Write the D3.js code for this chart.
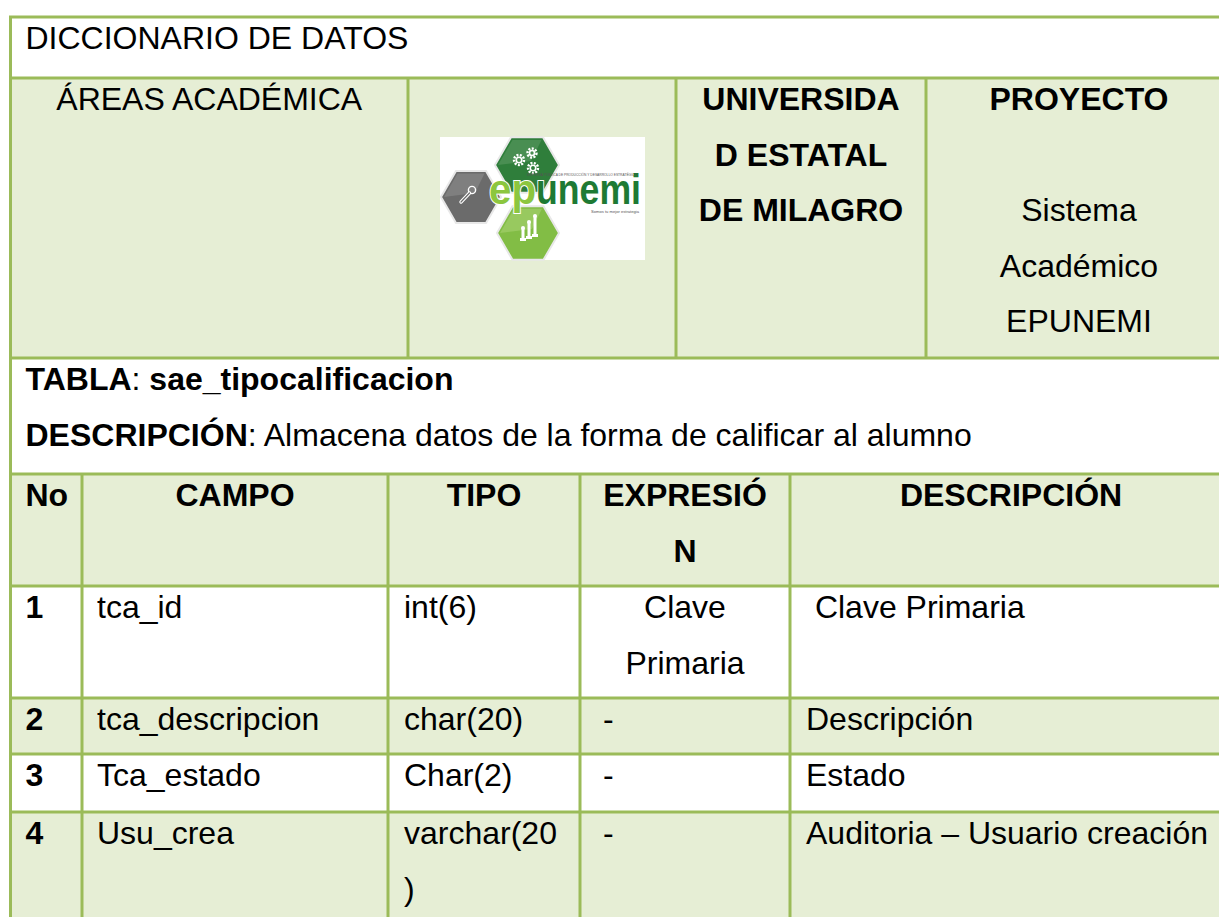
<!DOCTYPE html>
<html><head><meta charset="utf-8">
<script src="https://cdn.jsdelivr.net/npm/d3@7"></script>
<style>
html,body{margin:0;padding:0;background:#fff;overflow:hidden}
svg{display:block}
text{font-family:"Liberation Sans",Arial,Helvetica,sans-serif;font-size:32px;fill:#000;white-space:pre}
</style></head><body>
<script>
// ---------------- data ----------------
const docTitle = "DICCIONARIO DE DATOS";
const areaLabel = "ÁREAS ACADÉMICA";
const universityName = "UNIVERSIDAD ESTATAL DE MILAGRO";
const projectLabel = "PROYECTO";
const projectName = "Sistema Académico EPUNEMI";
const tableLabel = "TABLA";
const tableName = "sae_tipocalificacion";
const descLabel = "DESCRIPCIÓN";
const descText = "Almacena datos de la forma de calificar al alumno";
const columns = ["No", "CAMPO", "TIPO", "EXPRESIÓN", "DESCRIPCIÓN"];
const rowNumbers = ["1", "2", "3", "4"];
const fieldNames = ["tca_id", "tca_descripcion", "Tca_estado", "Usu_crea"];
const fieldTypes = ["int(6)", "char(20)", "Char(2)", "varchar(20)"];
const expressions = ["Clave Primaria", "-", "-", "-"];
const descriptions = [" Clave Primaria", "Descripción", "Estado", "Auditoria – Usuario creación"];
const logoWords = ["ep", "unemi"];
const logoTagTop = "EMPRESA PÚBLICA DE PRODUCCIÓN Y DESARROLLO ESTRATÉGICO";
const logoTagBottom = "Somos tu mejor estrategia";

// ---------------- layout ----------------
const W = 1219, H = 917;
const GRID = "#9BBB59", SHADE = "#E6EED5";
const LEFT = 10.5, RIGHT = 1232;
const rowEdges = [17, 78, 358, 474, 586, 698, 754, 812, 924];
const rowFill = ["#fff", SHADE, "#fff", SHADE, "#fff", SHADE, "#fff", SHADE];
const headerEdges = [LEFT, 408, 676, 926, RIGHT];
const dataEdges = [LEFT, 82, 388, 580, 790, RIGHT];
const LINE_H = 55.5, BASE = 32, PAD = 15;

const svg = d3.select("body").append("svg").attr("width", W).attr("height", H);

const colLeft = d3.scaleOrdinal(columns, dataEdges.slice(0, -1));
const colRight = d3.scaleOrdinal(columns, dataEdges.slice(1));
const rowY = d3.scaleOrdinal(d3.range(rowEdges.length), rowEdges);

// measurement helper
const meas = svg.append("text").attr("visibility", "hidden");
function measure(s, weight) {
  meas.attr("font-weight", weight || "normal").text(s);
  return meas.node().getComputedTextLength();
}
function wrap(str, width, weight) {
  const words = str.split(" ");
  const lines = [];
  let line = null;
  const fits = s => measure(s, weight) <= width;
  function place(word) {
    let cur = "";
    for (const ch of word) {
      if (cur && !fits(cur + ch)) { lines.push(cur); cur = ch; } else cur += ch;
    }
    return cur;
  }
  for (const w of words) {
    if (line === null) { line = place(w); continue; }
    const t = line + " " + w;
    if (fits(t)) line = t; else { lines.push(line); line = place(w); }
  }
  if (line !== null) lines.push(line);
  return lines;
}
function cellText(x0, x1, top, lines, align, weight, padStart) {
  const x = align === "middle" ? (x0 + x1) / 2 : x0 + (padStart || PAD);
  const g = svg.append("g");
  g.selectAll("text").data(lines).join("text")
    .attr("x", x).attr("y", (d, i) => top + BASE + i * LINE_H)
    .attr("text-anchor", align === "middle" ? "middle" : "start")
    .attr("font-weight", weight || "normal")
    .text(d => d);
}

// backgrounds
const bg = svg.insert("g", ":first-child");
bg.selectAll("rect").data(rowFill).join("rect")
  .attr("x", LEFT).attr("width", RIGHT - LEFT)
  .attr("y", (d, i) => rowY(i)).attr("height", (d, i) => rowY(i + 1) - rowY(i))
  .attr("fill", d => d);

// ---------------- logo ----------------
function hex(cx, cy, r) {
  return d3.range(6).map(k => [cx + r * Math.cos(k * Math.PI / 3), cy + r * Math.sin(k * Math.PI / 3)]);
}
const logo = svg.append("g");
logo.append("rect").attr("x", 440).attr("y", 137).attr("width", 205).attr("height", 123).attr("fill", "#fff");
const hexes = [
  {c: [471, 197], r: 30, fill: "#6b6b6b", hi: "#8c8c8c"},
  {c: [527, 165], r: 32, fill: "#2f7e3b", hi: "#5b9a62"},
  {c: [528, 233], r: 31, fill: "#82bd45", hi: "#a6d071"}
];
hexes.forEach(h => {
  logo.append("polygon").attr("points", hex(h.c[0], h.c[1], h.r).join(" "))
    .attr("fill", h.fill).attr("stroke", "#e8e8e8").attr("stroke-width", 2);
  const p = hex(h.c[0], h.c[1], h.r - 3);
  logo.append("polygon").attr("points", [p[3], p[4], p[5], [h.c[0] + 4, h.c[1] - 4]].join(" "))
    .attr("fill", h.hi).attr("opacity", 0.6);
});
// gears
[[519, 160, 5], [532, 153, 4.5], [533, 168, 5]].forEach(([x, y, r]) => {
  logo.append("circle").attr("cx", x).attr("cy", y).attr("r", r)
    .attr("fill", "none").attr("stroke", "#fff").attr("stroke-width", 2.4).attr("stroke-dasharray", "2 1.4");
  logo.append("circle").attr("cx", x).attr("cy", y).attr("r", r * 0.55)
    .attr("fill", "none").attr("stroke", "#fff").attr("stroke-width", 1.6);
});
// microphone
logo.append("circle").attr("cx", 472).attr("cy", 190).attr("r", 3.6).attr("fill", "none").attr("stroke", "#fff").attr("stroke-width", 1.4);
logo.append("line").attr("x1", 469.5).attr("y1", 193).attr("x2", 461).attr("y2", 202)
  .attr("stroke", "#fff").attr("stroke-width", 3.4).attr("stroke-linecap", "round");
logo.append("line").attr("x1", 469.5).attr("y1", 193).attr("x2", 461).attr("y2", 202)
  .attr("stroke", "#6b6b6b").attr("stroke-width", 1.2).attr("stroke-linecap", "round");
// chess pieces
[[523, 228, 12], [529, 222, 16], [535, 216, 20]].forEach(([x, y, h]) => {
  logo.append("rect").attr("x", x - 1.5).attr("y", y).attr("width", 3).attr("height", h).attr("fill", "#fff");
  logo.append("circle").attr("cx", x).attr("cy", y).attr("r", 2).attr("fill", "#fff");
  logo.append("rect").attr("x", x - 3).attr("y", y + h - 2).attr("width", 6).attr("height", 3).attr("fill", "#fff");
});
// word mark
logo.append("text").attr("x", 489).attr("y", 204).attr("font-weight", "bold").style("font-size", "42px")
  .attr("textLength", 47).attr("lengthAdjust", "spacingAndGlyphs")
  .style("fill", "#8cc63f").attr("stroke", "#fff").attr("stroke-width", 2).style("paint-order", "stroke")
  .text(logoWords[0]);
logo.append("text").attr("x", 536).attr("y", 204).attr("font-weight", "bold").style("font-size", "42px")
  .attr("textLength", 105).attr("lengthAdjust", "spacingAndGlyphs")
  .style("fill", "#1e7a34").attr("stroke", "#fff").attr("stroke-width", 2).style("paint-order", "stroke")
  .text(logoWords[1]);
logo.append("text").attr("x", 527).attr("y", 176).style("font-size", "3.4px").style("fill", "#555")
  .attr("textLength", 110).attr("lengthAdjust", "spacingAndGlyphs").text(logoTagTop);
logo.append("text").attr("x", 591).attr("y", 213).style("font-size", "3.8px").style("fill", "#555")
  .attr("textLength", 48).attr("lengthAdjust", "spacingAndGlyphs").text(logoTagBottom);

// ---------------- grid lines ----------------
const grid = svg.append("g").attr("stroke", GRID).attr("stroke-width", 3);
grid.selectAll("line.h").data(rowEdges).join("line").attr("class", "h")
  .attr("x1", LEFT - 1.5).attr("x2", RIGHT + 1.5).attr("y1", d => d).attr("y2", d => d);
grid.append("line").attr("x1", LEFT).attr("x2", LEFT).attr("y1", rowY(0)).attr("y2", rowY(8));
grid.append("line").attr("x1", RIGHT).attr("x2", RIGHT).attr("y1", rowY(0)).attr("y2", rowY(8));
grid.selectAll("line.hv").data(headerEdges.slice(1, -1)).join("line").attr("class", "hv")
  .attr("x1", d => d).attr("x2", d => d).attr("y1", rowY(1)).attr("y2", rowY(2));
grid.selectAll("line.dv").data(dataEdges.slice(1, -1)).join("line").attr("class", "dv")
  .attr("x1", d => d).attr("x2", d => d).attr("y1", rowY(3)).attr("y2", rowY(8));

// ---------------- texts ----------------
cellText(LEFT, RIGHT, rowY(0), [docTitle], "start");
const hw = i => headerEdges[i + 1] - headerEdges[i] - 2 * 16;
cellText(headerEdges[0], headerEdges[1], rowY(1), wrap(areaLabel, hw(0)), "middle");
cellText(headerEdges[2], headerEdges[3], rowY(1), wrap(universityName, hw(2), "bold"), "middle", "bold");
cellText(headerEdges[3], headerEdges[4], rowY(1), [projectLabel], "middle", "bold");
cellText(headerEdges[3], headerEdges[4], rowY(1) + 2 * LINE_H, wrap(projectName, hw(3)), "middle");

const t1 = svg.append("text").attr("x", LEFT + PAD).attr("y", rowY(2) + BASE);
t1.append("tspan").attr("font-weight", "bold").text(tableLabel);
t1.append("tspan").text(":");
t1.append("tspan").attr("font-weight", "bold").text(" " + tableName);
const t2 = svg.append("text").attr("x", LEFT + PAD).attr("y", rowY(2) + BASE + LINE_H);
t2.append("tspan").attr("font-weight", "bold").text(descLabel);
t2.append("tspan").text(": " + descText);

const cw = c => colRight(c) - colLeft(c) - 2 * 16;
columns.forEach((c, i) => {
  const lines = i === 0 ? [c] : wrap(c, cw(c), "bold");
  cellText(colLeft(c), colRight(c), rowY(3), lines, i === 0 ? "start" : "middle", "bold");
});

const rows = rowNumbers.map((n, i) => [n, fieldNames[i], fieldTypes[i], expressions[i], descriptions[i]]);
const padStart = [15, 15, 16, 23, 16];
rows.forEach((r, ri) => {
  r.forEach((v, ci) => {
    const c = columns[ci];
    const align = (ci === 3 && v !== "-") ? "middle" : "start";
    const lines = ci === 0 ? [v] : wrap(v, cw(c), "normal");
    cellText(colLeft(c), colRight(c), rowY(4 + ri), lines, align, ci === 0 ? "bold" : "normal", padStart[ci]);
  });
});
meas.remove();
</script>
</body></html>
